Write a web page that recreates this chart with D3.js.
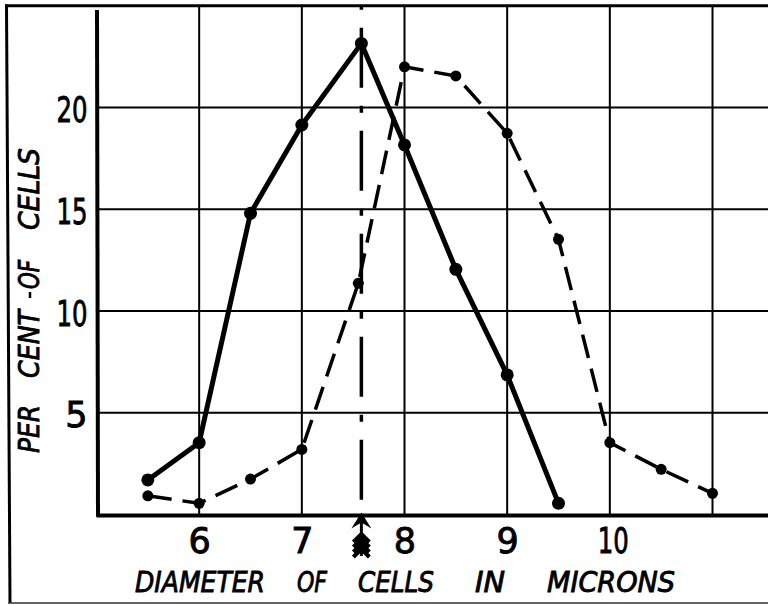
<!DOCTYPE html>
<html>
<head>
<meta charset="utf-8">
<script src="https://cdn.jsdelivr.net/npm/d3@7"></script>
<style>
  html, body { margin: 0; padding: 0; background: #fff; }
  svg { display: block; }
  text { font-family: "DejaVu Sans", sans-serif; fill: #000; stroke: #000; stroke-width: 0.9px; }
</style>
</head>
<body>
<svg id="chart" width="768" height="605"></svg>
<script>
// ---- data ----
const solidX  = [5.5, 6, 6.5, 7, 7.58, 8, 8.5, 9, 9.5];
const solidY  = [1.70, 3.53, 14.8, 19.14, 23.15, 18.16, 12.05, 6.86, 0.55];
const dashedX = [5.5, 6, 6.5, 7, 7.55, 8, 8.5, 9, 9.5, 10, 10.5, 11];
const dashedY = [0.92, 0.55, 1.74, 3.20, 11.36, 22.0, 21.55, 18.73, 13.52, 3.53, 2.22, 1.04];
const meanDiameter = 7.58;
const xTicks = [6, 7, 8, 9, 10];
const yTicks = [5, 10, 15, 20];
const xGrid  = [6, 7, 8, 9, 10, 11];
const yGrid  = [5, 10, 15, 20];
const xTitleWords = ["DIAMETER", "OF", "CELLS", "IN", "MICRONS"];
const yTitleWords = ["PER", "CENT", "OF", "CELLS"];

// ---- layout ----
const W = 768, H = 605;
const x = d3.scaleLinear().domain([5, 11]).range([96.5, 712.5]);
const y = d3.scaleLinear().domain([0, 25]).range([514.5, 5.75]);

const svg = d3.select("#chart");
svg.append("rect").attr("width", W).attr("height", H).attr("fill", "#fff");

// frame
svg.append("line").attr("x1", 5).attr("x2", W).attr("y1", y(25)).attr("y2", y(25))
  .attr("stroke", "#000").attr("stroke-width", 3);
svg.append("line").attr("x1", 6.5).attr("x2", 10).attr("y1", 4.5).attr("y2", 603)
  .attr("stroke", "#000").attr("stroke-width", 3);
svg.append("line").attr("x1", 8).attr("x2", W).attr("y1", 603).attr("y2", 603)
  .attr("stroke", "#333").attr("stroke-width", 1.5);

// grid
const grid = svg.append("g").attr("stroke", "#000").attr("stroke-width", 2);
grid.selectAll(".vg").data(xGrid).join("line").attr("class", "vg")
  .attr("x1", d => x(d)).attr("x2", d => x(d))
  .attr("y1", y(25)).attr("y2", y(0));
grid.selectAll(".hg").data(yGrid).join("line").attr("class", "hg")
  .attr("x1", x(5)).attr("x2", W)
  .attr("y1", d => y(d)).attr("y2", d => y(d));

// axes lines
svg.append("line").attr("x1", x(5)).attr("x2", W).attr("y1", y(0) + 1).attr("y2", y(0) + 1)
  .attr("stroke", "#000").attr("stroke-width", 4);
svg.append("line").attr("x1", x(5) + 0.5).attr("x2", x(5) + 1.5).attr("y1", 10).attr("y2", y(0) + 2)
  .attr("stroke", "#000").attr("stroke-width", 4);

// tick labels via d3 axes
const xAxis = svg.append("g").attr("transform", `translate(0,${y(0)})`)
  .call(d3.axisBottom(x).tickValues(xTicks).tickSize(0).tickFormat(d3.format("d")));
xAxis.select(".domain").remove();
xAxis.selectAll("text")
  .attr("y", 38.5).attr("dy", 0)
  .style("font-size", "35px").style("font-family", "DejaVu Sans, sans-serif")
  .attr("fill", "#000")
  .each(function(d) { if (String(d).length > 1) d3.select(this).attr("textLength", 31).attr("lengthAdjust", "spacingAndGlyphs").attr("x", 3); });

const yAxis = svg.append("g").attr("transform", `translate(${x(5)},0)`)
  .call(d3.axisLeft(y).tickValues(yTicks).tickSize(0).tickFormat(d3.format("d")));
yAxis.select(".domain").remove();
yAxis.selectAll("text")
  .attr("x", -9).attr("dy", 0).attr("y", 14)
  .style("font-size", "35px").style("font-family", "DejaVu Sans, sans-serif")
  .attr("fill", "#000")
  .each(function(d) { if (String(d).length > 1) d3.select(this).attr("textLength", 31).attr("lengthAdjust", "spacingAndGlyphs"); });

// mean line (dash-dot)
svg.append("line")
  .attr("x1", x(meanDiameter)).attr("x2", x(meanDiameter))
  .attr("y1", y(25)).attr("y2", y(0))
  .attr("stroke", "#000").attr("stroke-width", 3.5)
  .attr("stroke-dasharray", "60,18,7,18").attr("stroke-dashoffset", -22);

// arrow under the axis
const ax = x(meanDiameter);
const arrow = svg.append("g").attr("fill", "#000").attr("stroke", "#000");
arrow.append("line").attr("x1", ax).attr("x2", ax).attr("y1", y(0)).attr("y2", 556).attr("stroke-width", 3);
arrow.append("path").attr("stroke", "none")
  .attr("d", `M${ax},${y(0) - 2} L${ax - 10},${y(0) + 14} L${ax},${y(0) + 8} L${ax + 10},${y(0) + 14} Z`);
[534, 539, 544, 549].forEach(fy => {
  arrow.append("path").attr("fill", "none").attr("stroke-width", 4)
    .attr("d", `M${ax - 8},${fy + 8} L${ax},${fy} L${ax + 8},${fy + 8}`);
});

// series
const line = d3.line().x(d => x(d[0])).y(d => y(d[1]));
const solidPts = solidX.map((v, i) => [v, solidY[i]]);
const dashedPts = dashedX.map((v, i) => [v, dashedY[i]]);

svg.append("path").datum(dashedPts).attr("d", line)
  .attr("fill", "none").attr("stroke", "#000").attr("stroke-width", 3.5)
  .attr("stroke-dasharray", "24,11").attr("stroke-linejoin", "round");
svg.append("path").datum(solidPts).attr("d", line)
  .attr("fill", "none").attr("stroke", "#000").attr("stroke-width", 5)
  .attr("stroke-linejoin", "round");

svg.selectAll(".dp").data(dashedPts).join("circle").attr("class", "dp")
  .attr("cx", d => x(d[0])).attr("cy", d => y(d[1])).attr("r", 5.5).attr("fill", "#000");
svg.selectAll(".sp").data(solidPts).join("circle").attr("class", "sp")
  .attr("cx", d => x(d[0])).attr("cy", d => y(d[1])).attr("r", 6.5).attr("fill", "#000");

// x title words: [start x, length]
const xTitlePos = [[135, 130], [297, 30], [358, 76], [475, 30], [547, 128]];
svg.selectAll(".xt").data(xTitleWords).join("text").attr("class", "xt")
  .attr("x", (d, i) => xTitlePos[i][0]).attr("y", 592)
  .attr("textLength", (d, i) => xTitlePos[i][1]).attr("lengthAdjust", "spacingAndGlyphs")
  .style("font-size", "28px").style("font-style", "italic")
  .text(d => d);

// y title words (rotated): [start y (bottom), length]
const yTitlePos = [[453, 48], [378, 68], [289, 29], [230, 82]];
svg.selectAll(".yt").data(yTitleWords).join("text").attr("class", "yt")
  .attr("transform", (d, i) => `translate(39,${yTitlePos[i][0]}) rotate(-90)`)
  .attr("textLength", (d, i) => yTitlePos[i][1]).attr("lengthAdjust", "spacingAndGlyphs")
  .style("font-size", "29px").style("font-style", "italic")
  .text(d => d);
// small stroke before "OF"
svg.append("line").attr("x1", 30).attr("x2", 30).attr("y1", 292).attr("y2", 298)
  .attr("stroke", "#000").attr("stroke-width", 2.5);
</script>
</body>
</html>
